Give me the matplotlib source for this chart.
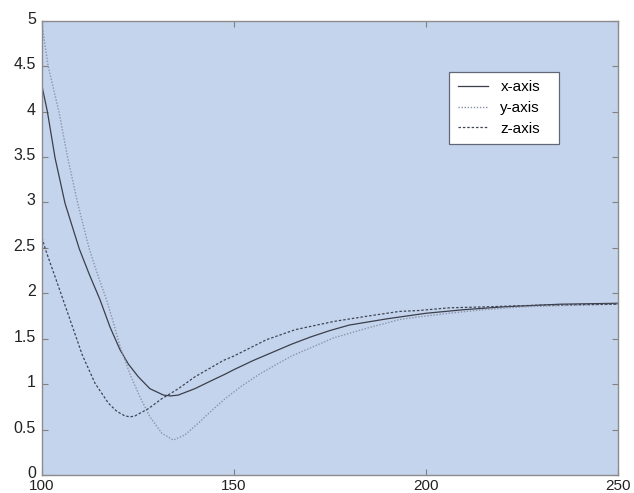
import matplotlib
matplotlib.use("Agg")
import matplotlib.pyplot as plt
from matplotlib.transforms import ScaledTranslation

plt.rcParams['font.family'] = ['Liberation Sans', 'DejaVu Sans']

# Series readings
x_solid = [100, 101.4, 103.4, 106, 109.7, 112.3, 115.1, 117.7, 120.3, 122.5, 125.1, 128.1, 131.6,
           133.5, 135.5, 139.8, 144.2, 147.7, 150, 155, 160, 165, 170, 175, 180, 190, 200, 210,
           220, 235, 250]
y_solid = [4.28, 4.0, 3.49, 2.99, 2.49, 2.21, 1.93, 1.63, 1.38, 1.22, 1.08, 0.95, 0.88,
           0.87, 0.88, 0.95, 1.04, 1.11, 1.16, 1.26, 1.35, 1.44, 1.52, 1.59, 1.65, 1.72, 1.78, 1.82,
           1.85, 1.88, 1.89]

x_dot = [100, 101.6, 104.4, 106.7, 109.3, 112.3, 114.6, 116.8, 118.5, 120.3, 122.9, 125.5, 128.1,
         131.2, 134.2, 137.2, 140.7, 144.2, 147.7, 152, 157, 165, 176, 185, 193, 198, 206, 215,
         225, 235, 250]
y_dot = [4.96, 4.5, 4.0, 3.49, 2.99, 2.49, 2.19, 1.93, 1.69, 1.42, 1.11, 0.86, 0.64,
         0.46, 0.385, 0.44, 0.57, 0.71, 0.84, 0.98, 1.12, 1.31, 1.51, 1.62, 1.71, 1.74, 1.78, 1.82,
         1.85, 1.865, 1.88]

x_dash = [100, 101, 104, 108.2, 110.5, 113.8, 117.3, 119.5, 121.6, 123, 124.2, 127.7, 131.2, 133.6,
          135.5, 139.8, 143.5, 147.2, 150, 158.5, 166, 176, 185, 193, 198, 206, 215, 230, 250]
y_dash = [2.61, 2.47, 2.11, 1.60, 1.32, 1.01, 0.79, 0.70, 0.65, 0.64, 0.65, 0.73, 0.84, 0.90,
          0.95, 1.08, 1.17, 1.26, 1.31, 1.49, 1.60, 1.69, 1.75, 1.80, 1.81, 1.84, 1.85, 1.87, 1.88]

labels = ['x-axis', 'y-axis', 'z-axis']
xticks = [100, 150, 200, 250]
yticks = [0, 0.5, 1, 1.5, 2, 2.5, 3, 3.5, 4, 4.5, 5]
ytick_labels = ['0', '0.5', '1', '1.5', '2', '2.5', '3', '3.5', '4', '4.5', '5']

fig = plt.figure(figsize=(6.34, 4.93), dpi=100)
ax = fig.add_axes([42/634, 1-475/493, (618-42)/634, (475-20.7)/493])
ax.set_facecolor('#c5d4ed')

ax.plot(x_solid, y_solid, color='#3a3f4a', lw=0.9, ls='-', label=labels[0])
ax.plot(x_dot, y_dot, color='#8a93a8', lw=1.0, ls=(0, (1, 1.2)), label=labels[1])
ax.plot(x_dash, y_dash, color='#3f4554', lw=0.9, ls=(0, (2, 1.5)), label=labels[2])

ax.set_xlim(100, 250)
ax.set_ylim(0, 5)
ax.set_xticks(xticks)
ax.set_xticklabels([str(t) for t in xticks])
ax.set_yticks(yticks)
ax.set_yticklabels(ytick_labels)
ax.tick_params(direction='in', length=4, width=0.8, color='#808080',
               top=True, right=True, labelcolor='#222222')
ax.tick_params(axis='y', pad=4.5, labelsize=11.5)
ax.tick_params(axis='x', pad=3, labelsize=11)
shift = ScaledTranslation(0, 3/100, fig.dpi_scale_trans)
for lab in ax.get_yticklabels():
    lab.set_transform(lab.get_transform() + shift)
for s in ax.spines.values():
    s.set_color('#8c8c8c')
    s.set_linewidth(1.0)

leg = ax.legend(loc='upper left', bbox_to_anchor=(0.707, 0.0, 0.191, 0.888), mode='expand',
                fontsize=11, frameon=True, fancybox=False, edgecolor='#606878', framealpha=1,
                handlelength=2.0, handletextpad=0.8, borderpad=0.55, labelspacing=0.45,
                borderaxespad=0)
leg.get_frame().set_linewidth(0.9)

fig.savefig('out.png', dpi=100)
